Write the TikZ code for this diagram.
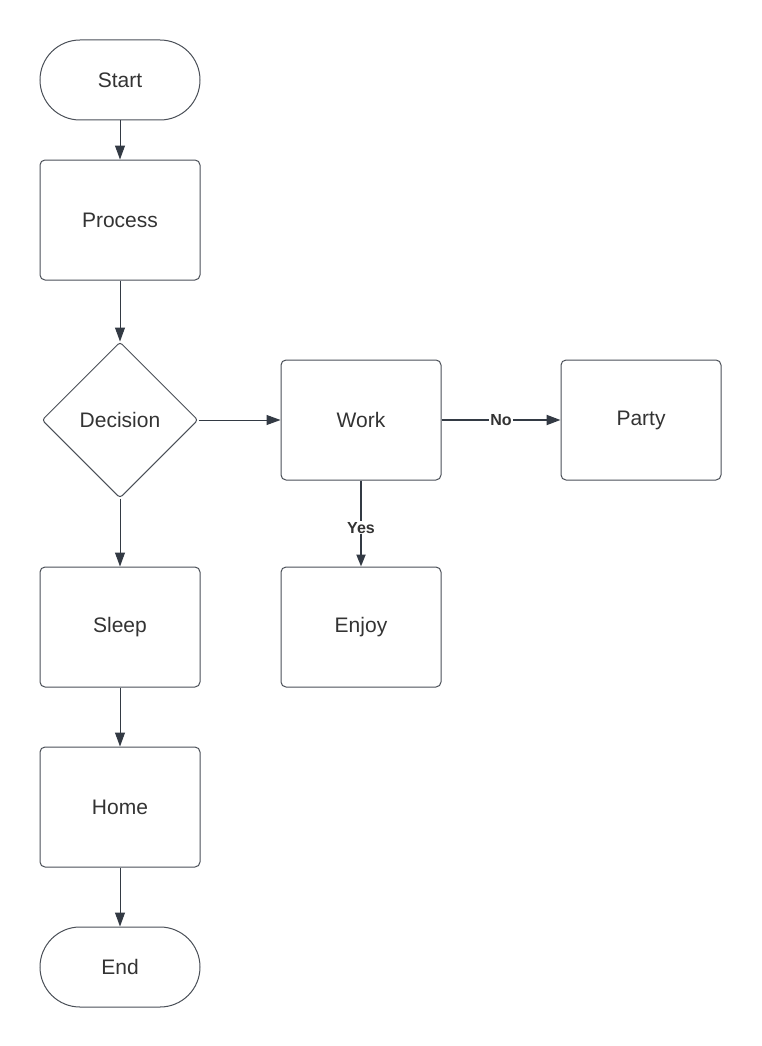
\documentclass[tikz,border=0pt]{standalone}
\usepackage{fontspec}
\setmainfont{Liberation Sans}
\usetikzlibrary{shapes.geometric,arrows.meta}
\definecolor{lineC}{HTML}{333A44}
\definecolor{boxC}{HTML}{4A4F57}
\definecolor{txtC}{HTML}{333333}
\tikzset{
  box/.style={draw=boxC, line width=1pt, rectangle, rounded corners=5pt, minimum width=160pt, minimum height=120pt, inner sep=0pt, text=txtC, font=\fontsize{21}{24}\selectfont},
  term/.style={draw=boxC, line width=1pt, rectangle, rounded corners=40pt, minimum width=160pt, minimum height=80pt, inner sep=0pt, text=txtC, font=\fontsize{21}{24}\selectfont},
  dec/.style={draw=boxC, line width=1pt, diamond, rounded corners=3pt, minimum width=156pt, minimum height=156pt, inner sep=0pt, text=txtC, font=\fontsize{21}{24}\selectfont},
  conn/.style={draw=lineC, line width=1pt, -{Triangle[length=14pt,width=10pt]}},
  connB/.style={draw=lineC, line width=2pt, -{Triangle[length=14pt,width=10pt]}},
  lbl/.style={fill=white, inner sep=1pt, text=txtC, font=\fontsize{16}{18}\selectfont\bfseries}
}
\begin{document}
\begin{tikzpicture}[x=1pt,y=-1pt]
\useasboundingbox (0,0) rectangle (761,1046);
\node[term] (start) at (120,80) {Start};
\node[box] (process) at (120,220) {Process};
\node[dec] (decision) at (120,420) {Decision};
\node[box] (sleep) at (120,627) {Sleep};
\node[box] (home) at (120,807) {Home};
\node[term] (end) at (120,967) {End};
\node[box] (work) at (361,420) {Work};
\node[box] (party) at (641,420) {Party};
\node[box] (enjoy) at (361,627) {Enjoy};
\draw[conn] (start) -- (process);
\draw[conn] (process) -- (decision);
\draw[conn] (decision) -- (sleep);
\draw[conn] (sleep) -- (home);
\draw[conn] (home) -- (end);
\draw[conn] (decision) -- (work);
\draw[connB] (work) -- node[lbl] {No} (party);
\draw[connB, -{Triangle[length=12pt,width=9pt]}] (work) -- node[lbl, pos=0.55] {Yes} (enjoy);
\end{tikzpicture}
\end{document}
